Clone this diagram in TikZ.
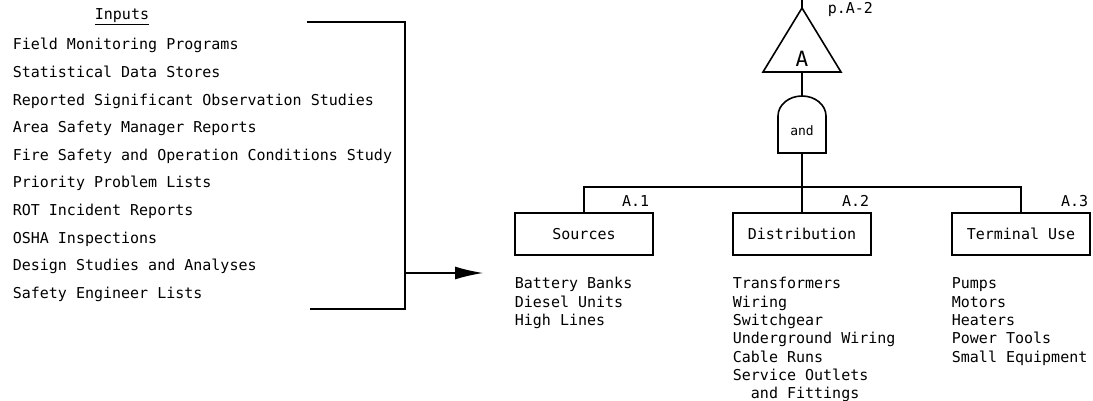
\documentclass[tikz,border=0pt]{standalone}
\usepackage{fontspec}
\setmonofont{DejaVu Sans Mono}
\usetikzlibrary{arrows.meta, positioning}

\begin{document}
\begin{tikzpicture}[
    x=1pt, y=1pt,
    line width=1.6pt,
    txt/.style={font=\ttfamily\fontsize{15}{18}\selectfont, inner sep=0pt, anchor=base west},
    reftxt/.style={txt, anchor=base east},
    box/.style={draw, line width=1.8pt, minimum width=138pt, minimum height=42pt, inner sep=0pt,
                 font=\ttfamily\fontsize{15}{18}\selectfont},
    arr/.style={-{Latex[length=28pt, width=13pt]}, line width=1.3pt},
]
\useasboundingbox (0,0) rectangle (1093,-401);

% Inputs — left column
\node[txt, anchor=base] (intitle) at (122,-20) {\underline{Inputs}};
\foreach \lbl [count=\i from 0] in {Field Monitoring Programs, Statistical Data Stores,
    Reported Significant Observation Studies, Area Safety Manager Reports,
    Fire Safety and Operation Conditions Study, Priority Problem Lists,
    ROT Incident Reports, OSHA Inspections, Design Studies and Analyses,
    Safety Engineer Lists}
  \node[txt] (in\i) at (12,{-50-27.6*\i}) {\lbl};

% Bracket round the inputs, arrow out
\coordinate (brtl) at (307,-22);
\coordinate (brtr) at (405,-22);
\coordinate (brbr) at (405,-309);
\coordinate (brbl) at (310,-309);
\draw (brtl) -- (brtr) -- (brbr) -- (brbl);
\coordinate (brout) at (405,-273);
\coordinate (arrtip) at (483,-273);
\draw[arr] (brout) -- (arrtip);

% Transfer triangle A
\coordinate (feed) at (802,0);
\coordinate (tapex) at (802,-8);
\coordinate (tbl) at (763,-72);
\coordinate (tbr) at (841,-72);
\coordinate (tbase) at (802,-72);
\draw (feed) -- (tapex);
\draw (tapex) -- (tbr) -- (tbl) -- cycle;
\node[font=\ttfamily\fontsize{21}{24}\selectfont, inner sep=0pt, anchor=base] (xferA) at (802,-67) {A};
\node[txt] (pageref) at (827,-14) {p.A-2};

% AND gate
\coordinate (gtop) at (802,-96);
\coordinate (gbot) at (802,-153);
\draw (778,-153) -- (778,-116) arc[start angle=180, end angle=0, x radius=24pt, y radius=20pt]
      -- (826,-153) -- cycle;
\node[font=\ttfamily\fontsize{13}{15}\selectfont] (andgate) at (802,-131) {and};
\draw (tbase) -- (gtop);

% Sub-systems
\node[box] (src) at (584,-234) {Sources};
\node[box] (dist) at (802,-234) {Distribution};
\node[box] (term) at (1021,-234) {Terminal Use};

\coordinate (bus) at (802,-187);
\draw (gbot) -- (dist.north);
\draw (src.north) |- (bus) -| (term.north);

\node[reftxt] (refA1) at ([shift={(-4,6)}]src.north east) {A.1};
\node[reftxt] (refA2) at ([shift={(-2,6)}]dist.north east) {A.2};
\node[reftxt] (refA3) at ([shift={(-2,6)}]term.north east) {A.3};

% Item lists under each box
\foreach \lbl [count=\i from 0] in {Battery Banks, Diesel Units, High Lines}
  \node[txt] (srcitem\i) at ([yshift={-33-18.3*\i}]src.south west) {\lbl};
\foreach \lbl [count=\i from 0] in {Transformers, Wiring, Switchgear, Underground Wiring,
    Cable Runs, Service Outlets, \hphantom{xx}and Fittings}
  \node[txt] (distitem\i) at ([yshift={-33-18.3*\i}]dist.south west) {\lbl};
\foreach \lbl [count=\i from 0] in {Pumps, Motors, Heaters, Power Tools, Small Equipment}
  \node[txt] (termitem\i) at ([yshift={-33-18.3*\i}]term.south west) {\lbl};

\end{tikzpicture}
\end{document}
